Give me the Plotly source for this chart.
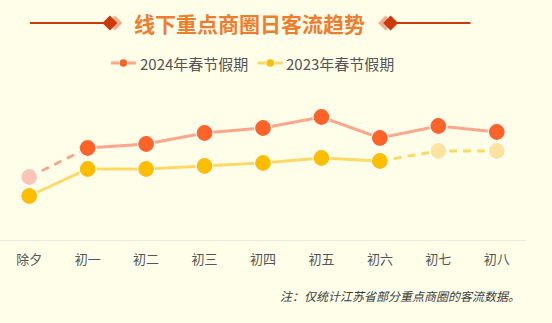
import plotly.graph_objects as go

categories = ["除夕", "初一", "初二", "初三", "初四", "初五", "初六", "初七", "初八"]
series_2024 = [63, 92, 96, 107, 112, 123, 102, 114, 108]
series_2023 = [44, 71, 71, 74, 77, 82, 79, 89, 89]
name_2024 = "2024年春节假期"
name_2023 = "2023年春节假期"
title_text = "线下重点商圈日客流趋势"
note_text = "注：仅统计江苏省部分重点商圈的客流数据。"

W, H = 552, 323
L, R, T, B = 0, 25.5, 70, 83
PW, PH = W - L - R, H - T - B
BG = "#fefee9"
FONT = "Noto Sans CJK SC"

def px(x):
    return (x - L) / PW

def py(y):
    return (H - B - y) / PH

c24_line, c24_mk, c24_fade = "#fda68c", "#ff6328", "#fbc6b6"
c23_line, c23_mk, c23_fade = "#ffd966", "#ffbd00", "#fde3a0"

fig = go.Figure()

def seg(xs, ys, color, dash):
    fig.add_trace(go.Scatter(x=xs, y=ys, mode="lines", showlegend=False,
                             line=dict(color=color, width=3, dash=dash), hoverinfo="skip"))

def mk(xs, ys, color, name):
    fig.add_trace(go.Scatter(x=xs, y=ys, mode="markers", showlegend=False, name=name,
                             marker=dict(color=color, size=17, line=dict(color="white", width=1.2))))

# 2024: dashed first segment, solid rest
seg(categories[0:2], series_2024[0:2], c24_line, "8px,6px")
seg(categories[1:], series_2024[1:], c24_line, "solid")
# 2023: solid until 初六, dashed after
seg(categories[0:7], series_2023[0:7], c23_line, "solid")
seg(categories[6:], series_2023[6:], c23_line, "8px,6px")

mk(categories[0:1], series_2024[0:1], c24_fade, name_2024)
mk(categories[1:], series_2024[1:], c24_mk, name_2024)
mk(categories[0:7], series_2023[0:7], c23_mk, name_2023)
mk(categories[7:], series_2023[7:], c23_fade, name_2023)

shapes = []
# title decorations
ty = py(23)
shapes.append(dict(type="line", xref="paper", yref="paper", x0=px(30), x1=px(108), y0=ty, y1=ty,
                   line=dict(color="#cc3a0c", width=2)))
shapes.append(dict(type="line", xref="paper", yref="paper", x0=px(392), x1=px(471), y0=ty, y1=ty,
                   line=dict(color="#cc3a0c", width=2)))

def diamond(cx, cy, r, color):
    path = f"M {px(cx-r)} {py(cy)} L {px(cx)} {py(cy-r)} L {px(cx+r)} {py(cy)} L {px(cx)} {py(cy+r)} Z"
    shapes.append(dict(type="path", xref="paper", yref="paper", path=path,
                       fillcolor=color, line=dict(width=0)))

diamond(115, 23, 7.5, "#eeb090")
diamond(110, 23, 7.5, "#cc3a0c")
diamond(386, 23, 7.5, "#eeb090")
diamond(391, 23, 7.5, "#cc3a0c")

# custom legend symbols
def legend_symbol(x0, line_color, dot_color, ly=63):
    for a, b in [(x0, x0 + 8), (x0 + 17, x0 + 25)]:
        shapes.append(dict(type="line", xref="paper", yref="paper", x0=px(a), x1=px(b),
                           y0=py(ly), y1=py(ly), line=dict(color=line_color, width=3)))
    cx, r = x0 + 12.5, 3.8
    shapes.append(dict(type="circle", xref="paper", yref="paper", x0=px(cx - r), x1=px(cx + r),
                       y0=py(ly + r), y1=py(ly - r), fillcolor=dot_color, line=dict(width=0)))

legend_symbol(111, c24_line, c24_mk)
legend_symbol(258, c23_line, c23_mk)

annotations = [
    dict(text=f"<b>{title_text}</b>", xref="paper", yref="paper", x=px(250), y=py(23),
         xanchor="center", yanchor="middle", showarrow=False,
         font=dict(family=FONT, size=21, color="#f07c2e")),
    dict(text=name_2024, xref="paper", yref="paper", x=px(138), y=py(64),
         xanchor="left", yanchor="middle", showarrow=False,
         font=dict(family=FONT, size=15, color="#555555")),
    dict(text=name_2023, xref="paper", yref="paper", x=px(284), y=py(64),
         xanchor="left", yanchor="middle", showarrow=False,
         font=dict(family=FONT, size=15, color="#555555")),
    dict(text=f"<i>{note_text}</i>", xref="paper", yref="paper", x=px(522), y=py(295),
         xanchor="right", yanchor="middle", showarrow=False,
         font=dict(family=FONT, size=12, color="#3f3f3f")),
]

fig.update_layout(
    width=W, height=H,
    margin=dict(l=L, r=R, t=T, b=B, pad=0),
    paper_bgcolor=BG, plot_bgcolor=BG,
    font=dict(family=FONT, color="#555555"),
    shapes=shapes, annotations=annotations,
    showlegend=False,
    xaxis=dict(type="category", categoryorder="array", categoryarray=categories,
               range=[-0.5, 8.5], showgrid=False, zeroline=False,
               showline=True, linecolor="#ebebe0", linewidth=1, ticks="",
               ticklabelstandoff=7,
               tickfont=dict(family=FONT, size=13, color="#555555")),
    yaxis=dict(range=[0, 170], showgrid=False, zeroline=False, showticklabels=False,
               showline=False),
)

fig.write_html("out.html")
